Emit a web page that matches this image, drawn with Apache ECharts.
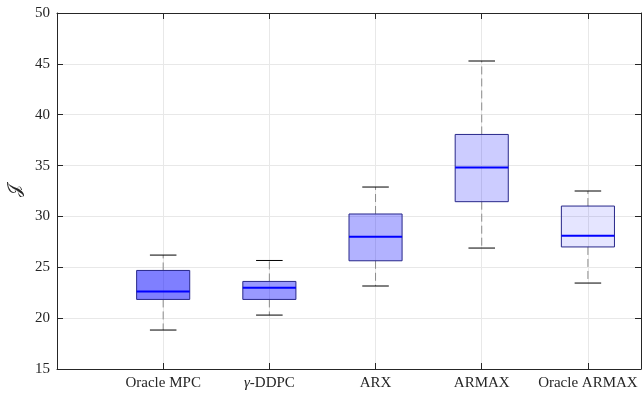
<!DOCTYPE html>
<html>
<head>
<meta charset="utf-8">
<script src="https://cdn.jsdelivr.net/npm/echarts@6/dist/echarts.min.js"></script>
<style>
  html, body { margin: 0; padding: 0; background: #fff; }
  #chart { width: 644px; height: 397px; }
</style>
</head>
<body>
<div id="chart"></div>
<script>
// Controller cost J per method: box-plot statistics
const categories = ['Oracle MPC', 'γ-DDPC', 'ARX', 'ARMAX', 'Oracle ARMAX'];
const lowerWhisker = [18.83, 20.30, 23.16, 26.89, 23.45];
const lowerQuartile = [21.84, 21.84, 25.64, 31.45, 27.00];
const medians = [22.62, 22.99, 28.00, 34.82, 28.10];
const upperQuartile = [24.69, 23.61, 30.24, 38.06, 31.02];
const upperWhisker = [26.20, 25.67, 32.89, 45.28, 32.50];
const yTicks = [15, 20, 25, 30, 35, 40, 45, 50];

// Fill opacity of each box (fades from first to last method)
const boxOpacity = [0.5, 0.4, 0.3, 0.2, 0.1];

const ink = '#262626';
const gridColor = '#e8e8e8';
const font = 'Liberation Serif';

const boxData = categories.map((c, i) => [
  i + 1, lowerWhisker[i], lowerQuartile[i], medians[i], upperQuartile[i], upperWhisker[i]
]);

function renderBox(params, api) {
  const x = api.value(0);
  const idx = params.dataIndex;
  const pLow = api.coord([x, api.value(1)]);
  const pQ1 = api.coord([x, api.value(2)]);
  const pMed = api.coord([x, api.value(3)]);
  const pQ3 = api.coord([x, api.value(4)]);
  const pHigh = api.coord([x, api.value(5)]);
  const boxW = api.size([0.5, 0])[0];
  const capW = boxW / 2;
  const cx = pMed[0];
  const whiskerStyle = { stroke: '#8c8c8c', lineWidth: 1, lineDash: [8, 4] };
  return {
    type: 'group',
    children: [
      { type: 'line', shape: { x1: cx, y1: pQ3[1], x2: cx, y2: pHigh[1] }, style: whiskerStyle },
      { type: 'line', shape: { x1: cx, y1: pQ1[1], x2: cx, y2: pLow[1] }, style: whiskerStyle },
      { type: 'line', shape: { x1: cx - capW / 2, y1: pHigh[1], x2: cx + capW / 2, y2: pHigh[1] },
        style: { stroke: '#000', lineWidth: 1 } },
      { type: 'line', shape: { x1: cx - capW / 2, y1: pLow[1], x2: cx + capW / 2, y2: pLow[1] },
        style: { stroke: '#000', lineWidth: 1 } },
      { type: 'rect', shape: { x: cx - boxW / 2, y: pQ3[1], width: boxW, height: pQ1[1] - pQ3[1] },
        style: { fill: 'rgba(0,0,255,' + boxOpacity[idx] + ')', stroke: '#27278a', lineWidth: 1 } },
      { type: 'line', shape: { x1: cx - boxW / 2, y1: pMed[1], x2: cx + boxW / 2, y2: pMed[1] },
        style: { stroke: '#0000ff', lineWidth: 2 } }
    ]
  };
}

const chart = echarts.init(document.getElementById('chart'), null, { renderer: 'canvas' });

const frameLine = { show: true, onZero: false, lineStyle: { color: ink, width: 1 } };
const innerTick = { show: true, inside: true, length: 6, lineStyle: { color: ink } };

chart.setOption({
  animation: false,
  backgroundColor: '#fff',
  grid: { left: 57, right: 3, top: 13, bottom: 28, containLabel: false, outerBoundsMode: 'none' },
  xAxis: [
    {
      type: 'value', min: 0, max: 5.5, interval: 1, position: 'bottom',
      axisLine: frameLine, axisTick: innerTick,
      splitLine: { show: true, lineStyle: { color: gridColor, width: 1 } },
      axisLabel: {
        margin: 7, color: ink, fontFamily: font, fontSize: 15,
        showMinLabel: false, showMaxLabel: false,
        formatter: v => {
          const name = categories[Math.round(v) - 1];
          if (!Number.isInteger(v) || !name) return '';
          return name.startsWith('γ') ? '{g|γ}' + name.slice(1) : name;
        },
        rich: { g: { fontStyle: 'italic', fontFamily: font, fontSize: 15, color: ink } }
      }
    },
    {
      type: 'value', min: 0, max: 5.5, interval: 1, position: 'top',
      axisLine: frameLine, axisTick: innerTick,
      splitLine: { show: false }, axisLabel: { show: false }
    }
  ],
  yAxis: [
    {
      type: 'value', min: yTicks[0], max: yTicks[yTicks.length - 1], interval: 5, position: 'left',
      axisLine: frameLine, axisTick: innerTick,
      splitLine: { show: true, lineStyle: { color: gridColor, width: 1 } },
      axisLabel: { margin: 7, color: ink, fontFamily: font, fontSize: 15 },
      name: '𝒥', nameLocation: 'middle', nameGap: 31, nameRotate: 90,
      nameTextStyle: { fontFamily: 'DejaVu Sans', fontSize: 18, color: ink }
    },
    {
      type: 'value', min: yTicks[0], max: yTicks[yTicks.length - 1], interval: 5, position: 'right',
      axisLine: frameLine, axisTick: innerTick,
      splitLine: { show: false }, axisLabel: { show: false }
    }
  ],
  series: [
    {
      type: 'custom',
      xAxisIndex: 0, yAxisIndex: 0,
      data: boxData,
      encode: { x: 0, y: [1, 2, 3, 4, 5] },
      renderItem: renderBox,
      clip: false
    }
  ]
});
</script>
</body>
</html>
